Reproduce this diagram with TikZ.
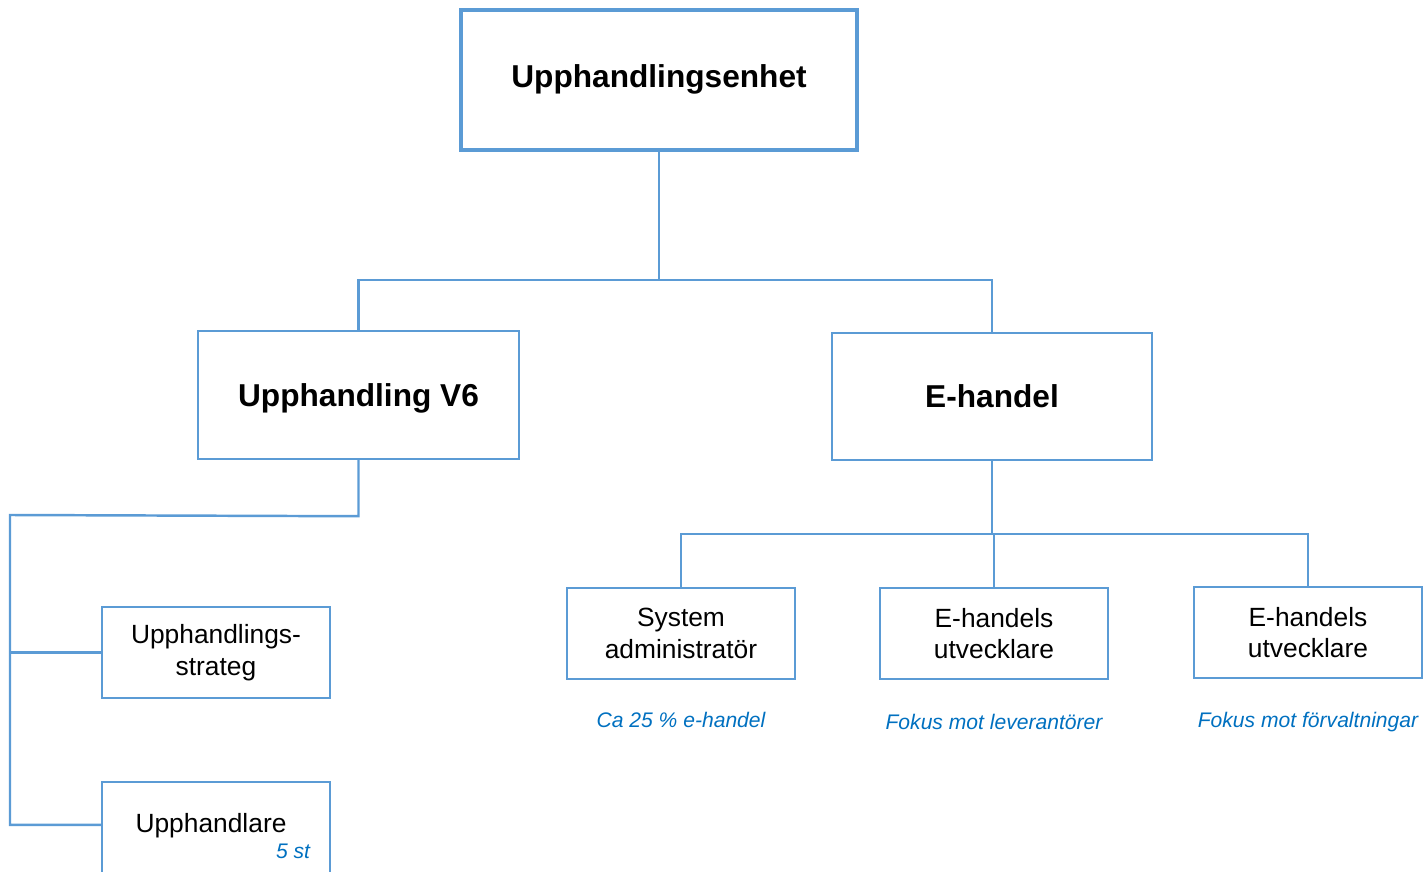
\documentclass[tikz,border=0pt]{standalone}
\usepackage{fontspec}
\setsansfont{Liberation Sans}
\usetikzlibrary{shapes,arrows}
\definecolor{boxblue}{RGB}{91,155,213}
\definecolor{noteblue}{RGB}{0,112,192}
\tikzstyle{blockTop} = [rectangle, draw=boxblue, line width=2.1pt, minimum width=7.92cm, minimum height=2.8cm, inner sep=0pt, text depth=0.4em, font=\fontsize{18}{21}\selectfont\sffamily\bfseries]
\tikzstyle{blockMid} = [rectangle, draw=boxblue, line width=1.4pt, minimum width=6.42cm, minimum height=2.56cm, inner sep=0pt, text depth=0pt, font=\fontsize{18}{21}\selectfont\sffamily\bfseries]
\tikzstyle{blockLow} = [rectangle, draw=boxblue, line width=1.4pt, minimum width=4.56cm, minimum height=1.82cm, inner sep=0pt, text width=4.4cm, text centered, font=\fontsize{15}{18}\selectfont\sffamily]
\tikzstyle{note} = [text=noteblue, font=\fontsize{12}{14}\selectfont\sffamily\itshape]
\tikzstyle{line} = [draw=boxblue, line width=1.4pt]

\begin{document}
\begin{tikzpicture}[node distance = 2cm, auto]
    \useasboundingbox (0,0) rectangle (28.54,-17.44);
    \clip (0,0) rectangle (28.54,-17.44);

    % nodes
    \node [blockTop] at (13.18,-1.6) (enhet) {Upphandlingsenhet};
    \node [blockMid, below of=enhet, node distance=6.3cm, xshift=-6.01cm] (upv6) {Upphandling V6};
    \node [blockMid, right of=upv6, node distance=12.67cm, yshift=-0.03cm, minimum width=6.4cm, minimum height=2.54cm] (ehandel) {E-handel};

    \node [blockLow, below of=upv6, node distance=5.15cm, xshift=-2.85cm] (strateg) {Upphandlings-\\strateg};
    \node [blockLow, below of=strateg, node distance=3.97cm, minimum height=2.76cm] (upphandlare) {};
    \node [font=\fontsize{15}{18}\selectfont\sffamily] at ([xshift=-0.1cm,yshift=-0.9cm]upphandlare.north) (upphandlare_txt) {Upphandlare};
    \node [note, anchor=east] at ([xshift=-0.3cm,yshift=-1.42cm]upphandlare.north east) (upphandlare_st) {5 st};

    \node [blockLow, below of=ehandel, node distance=4.74cm, xshift=0.04cm] (utv_lev) {E-handels\\utvecklare};
    \node [blockLow, left of=utv_lev, node distance=6.26cm] (sysadm) {System\\administratör};
    \node [blockLow, right of=utv_lev, node distance=6.28cm, yshift=0.02cm] (utv_forv) {E-handels\\utvecklare};

    % notes
    \node [note, below of=sysadm, node distance=1.72cm] (sysadm_note) {Ca 25 \% e-handel};
    \node [note, below of=utv_lev, node distance=1.77cm] (utv_lev_note) {Fokus mot leverantörer};
    \node [note, below of=utv_forv, node distance=1.79cm] (utv_forv_note) {Fokus mot förvaltningar};

    % edges
    \coordinate (topbar) at ([yshift=-2.56cm]enhet.south);
    \path [line] (enhet.south) -- (topbar);
    \path [line] (topbar) -| (upv6.north);
    \path [line] (topbar) -| (ehandel.north);

    \coordinate (v6bar) at ([yshift=-1.12cm]upv6.south);
    \coordinate (spine) at (0.2,-10.3);
    \coordinate (upph_in) at ([yshift=-0.88cm]upphandlare.north west);
    \path [line] (upv6.south) -- (v6bar) -- (spine) |- (upph_in);
    \path [line] (spine |- strateg.west) -- (strateg.west);

    \coordinate (ehbar) at ([yshift=-1.46cm]ehandel.south);
    \path [line] (ehandel.south) -- (ehbar);
    \path [line] (ehbar) -| (sysadm.north);
    \path [line] (ehbar) -| (utv_lev.north);
    \path [line] (ehbar) -| (utv_forv.north);

\end{tikzpicture}
\end{document}
